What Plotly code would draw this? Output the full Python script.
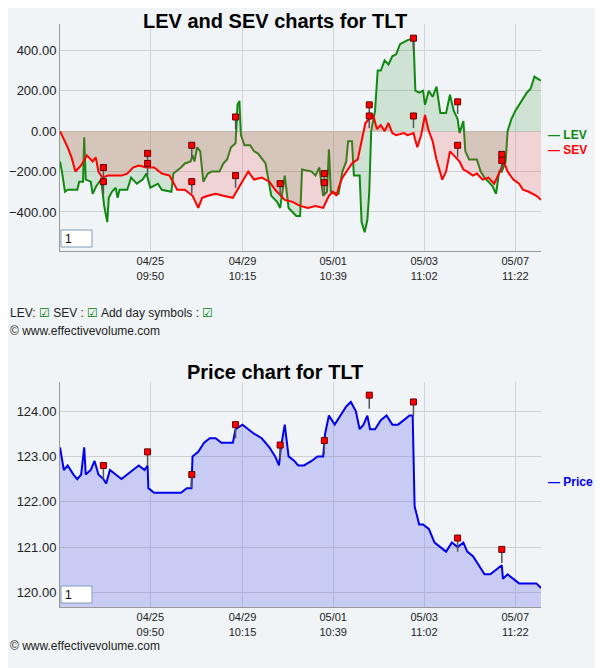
import plotly.graph_objects as go

# sample position (time axis, 04/23 .. 05/08) and values
lev_t = [155,160,168,175,200,205,215,218,222,235,240,250,262,270,278,282,290,300,305,310,330,340,355,370,380,390,410,420,445,450,470,480,495,500,505,512,520,528,540,550,570,580,590,600,612,617,622,626,635,650,660,670,690,705,720,728,740,750,770,780,785,810,820,830,840,850,855,860,880,890,900,905,915,920,935,940,948,955,960,965,975,982,990,1000,1010,1020,1030,1040,1060,1075,1080,1090,1100,1105,1115,1125,1135,1145,1160,1170,1180,1190,1195,1205,1210,1220,1240,1250,1260,1280,1290,1298,1305,1315,1320,1330,1340,1350,1360,1370,1380,1390,1398,1407]
lev = [-150,-200,-300,-290,-290,-250,-250,-30,-240,-250,-310,-270,-240,-370,-450,-330,-300,-280,-330,-290,-290,-230,-260,-240,-210,-280,-260,-290,-300,-210,-180,-160,-150,-120,-150,-80,-100,-250,-210,-200,-200,-160,-140,-80,-60,130,150,-20,-70,-70,-100,-110,-160,-320,-350,-380,-220,-380,-420,-420,-190,-200,-220,-180,-320,-300,-90,-300,-310,-200,-150,-50,-50,-220,-220,-450,-500,-440,-300,0,100,300,300,350,330,370,380,430,450,460,200,190,200,130,200,170,220,90,90,180,100,60,-10,50,-100,-140,-140,-200,-230,-270,-310,-200,-200,-150,0,60,100,130,160,190,210,270,260,250]

sev_t = [155,165,175,185,195,210,225,240,248,255,265,280,300,315,330,345,360,380,400,420,440,460,480,500,515,525,540,560,580,605,620,630,645,660,680,700,715,740,760,780,800,820,840,855,865,875,880,890,900,915,930,940,950,960,970,980,990,1000,1010,1020,1030,1050,1060,1075,1085,1095,1105,1115,1125,1135,1145,1150,1160,1170,1185,1195,1205,1215,1230,1240,1255,1270,1285,1300,1310,1320,1335,1350,1360,1375,1395,1407]
sev = [0,-40,-80,-130,-200,-170,-120,-150,-130,-200,-230,-220,-220,-220,-210,-180,-170,-180,-180,-210,-220,-290,-290,-320,-380,-330,-320,-310,-320,-330,-280,-250,-200,-240,-230,-250,-290,-340,-350,-370,-380,-370,-380,-320,-300,-320,-280,-230,-200,-160,-140,-50,40,60,80,10,30,0,40,-10,-20,-10,-20,-10,-80,-20,80,0,-50,-140,-200,-240,-200,-100,-130,-150,-190,-200,-220,-210,-240,-230,-260,-200,-150,-200,-240,-260,-290,-300,-320,-340]

day_t = [268,268,383,383,498,498,612,612,728,843,843,960,960,1075,1075,1190,1190,1305,1305]
day_v = [-180,-250,-110,-160,-70,-250,70,-220,-260,-210,-255,130,75,460,75,145,-70,-115,-145]

price_t = [155,165,175,190,200,210,218,222,235,245,255,268,275,285,300,315,330,345,360,375,383,385,400,420,440,455,470,485,497,500,515,530,545,560,575,590,605,612,630,645,660,680,700,715,725,730,740,750,765,775,790,810,825,840,845,855,870,885,900,912,925,935,945,955,962,975,990,1005,1020,1035,1050,1065,1073,1078,1090,1100,1115,1130,1145,1160,1175,1190,1205,1215,1230,1245,1260,1275,1290,1305,1308,1320,1335,1350,1365,1380,1395,1407]
price = [123.2,122.7,122.8,122.6,122.5,122.6,123.2,122.6,122.7,122.9,122.6,122.5,122.4,122.7,122.6,122.5,122.6,122.7,122.8,122.7,122.8,122.3,122.2,122.2,122.2,122.2,122.2,122.3,122.3,123.0,123.1,123.3,123.4,123.4,123.3,123.3,123.3,123.6,123.7,123.6,123.5,123.4,123.2,123.0,122.8,123.2,123.7,123.0,122.9,122.8,122.8,122.9,123.0,123.0,123.5,123.9,123.7,123.9,124.1,124.2,124.0,123.6,123.7,123.9,123.6,123.6,123.8,123.9,123.7,123.7,123.8,123.9,123.9,121.9,121.5,121.5,121.4,121.1,121.0,120.9,121.1,121.0,121.1,120.9,120.8,120.6,120.4,120.4,120.5,120.6,120.3,120.4,120.3,120.2,120.2,120.2,120.2,120.1]

pday_t = [268,383,498,612,728,843,960,1075,1190,1305]
pday_v = [122.8,123.1,122.6,123.7,123.25,123.35,124.35,124.2,121.2,120.95]

tick_pos = [390, 630, 866, 1103, 1340]
tick_txt = ["04/25<br>09:50", "04/29<br>10:15", "05/01<br>10:39", "05/03<br>11:02", "05/07<br>11:22"]

bg = "#f0f4f7"
font = "Liberation Sans, Arial, sans-serif"

# page has an 8px body margin: figure occupies x 8..603, y 8..668
W, H, OFF = 595, 660, 8


def px(x):
    return (x - OFF) / W


def py(y):
    return (668 - y) / H


fig = go.Figure()
fig.add_trace(go.Scatter(x=lev_t, y=lev, mode="lines", line=dict(color="#118811", width=2),
                         fill="tozeroy", fillcolor="rgba(60,150,60,0.18)", xaxis="x", yaxis="y"))
fig.add_trace(go.Scatter(x=sev_t, y=sev, mode="lines", line=dict(color="#ff0000", width=2),
                         fill="tozeroy", fillcolor="rgba(240,80,80,0.2)", xaxis="x", yaxis="y"))
fig.add_trace(go.Scatter(x=day_t, y=day_v, mode="markers",
                         marker=dict(symbol="square", size=6, color="red", line=dict(color="#600", width=1)),
                         error_y=dict(type="data", symmetric=False, array=[0] * len(day_v),
                                      arrayminus=[60] * len(day_v), color="#555", thickness=1.5, width=0),
                         xaxis="x", yaxis="y"))
fig.add_trace(go.Scatter(x=price_t, y=price, mode="lines", line=dict(color="#0000ee", width=2),
                         fill="tozeroy", fillcolor="rgba(110,110,235,0.3)", xaxis="x2", yaxis="y2"))
fig.add_trace(go.Scatter(x=pday_t, y=pday_v, mode="markers",
                         marker=dict(symbol="square", size=6, color="red", line=dict(color="#600", width=1)),
                         error_y=dict(type="data", symmetric=False, array=[0] * len(pday_v),
                                      arrayminus=[0.3] * len(pday_v), color="#555", thickness=1.5, width=0),
                         xaxis="x2", yaxis="y2"))

xcommon = dict(range=[155, 1407], tickvals=tick_pos, ticktext=tick_txt, showgrid=True,
               gridcolor="#cfd6dc", showline=True, linecolor="#999", ticks="", zeroline=False,
               tickfont=dict(size=11, color="#222"))
ycommon = dict(showgrid=True, gridcolor="#cfd0d0", showline=True, linecolor="#999", zeroline=False,
               tickformat=".2f", tickfont=dict(size=13, color="#222"))

fig.update_layout(
    width=W, height=H, margin=dict(l=0, r=0, t=0, b=0),
    paper_bgcolor=bg, plot_bgcolor=bg, showlegend=False, font=dict(family=font),
    xaxis=dict(domain=[px(60), px(541)], anchor="y", **xcommon),
    yaxis=dict(domain=[py(251), py(24)], range=[-593, 530], tickvals=[-400, -200, 0, 200, 400], anchor="x", **ycommon),
    xaxis2=dict(domain=[px(60), px(541)], anchor="y2", **xcommon),
    yaxis2=dict(domain=[py(607), py(382)], range=[119.68, 124.64], tickvals=[120, 121, 122, 123, 124], anchor="x2", **ycommon),
    shapes=[
        dict(type="rect", xref="paper", yref="paper", x0=px(61), x1=px(92), y0=py(247), y1=py(230),
             fillcolor="white", line=dict(color="#7f9db9", width=1)),
        dict(type="rect", xref="paper", yref="paper", x0=px(61), x1=px(92), y0=py(603), y1=py(586),
             fillcolor="white", line=dict(color="#7f9db9", width=1)),
    ],
    annotations=[
        dict(text="<b>LEV and SEV charts for TLT</b>", x=px(275), y=1.0, xref="paper", yref="paper",
             yanchor="top", showarrow=False, font=dict(size=20, color="black", family=font)),
        dict(text="<b>Price chart for TLT</b>", x=px(275), y=py(359), xref="paper", yref="paper",
             yanchor="top", showarrow=False, font=dict(size=20, color="black", family=font)),
        dict(text="<b>— LEV</b>", x=px(546), y=py(126), xref="paper", yref="paper", xanchor="left",
             showarrow=False, font=dict(size=12, color="#118811")),
        dict(text="<b>— SEV</b>", x=px(546), y=py(141), xref="paper", yref="paper", xanchor="left",
             showarrow=False, font=dict(size=12, color="#ff0000")),
        dict(text="<b>— Price</b>", x=px(546), y=py(491), xref="paper", yref="paper", xanchor="left",
             showarrow=False, font=dict(size=12, color="#0000ee")),
        dict(text="1", x=px(63), y=py(239), xref="paper", yref="paper", xanchor="left", yanchor="middle",
             showarrow=False, font=dict(size=12, color="black")),
        dict(text="1", x=px(63), y=py(595), xref="paper", yref="paper", xanchor="left", yanchor="middle",
             showarrow=False, font=dict(size=12, color="black")),
        dict(text="LEV: <span style='color:green'>☑</span> SEV : <span style='color:green'>☑</span> Add day symbols : <span style='color:green'>☑</span>",
             x=px(8), y=py(313), xref="paper", yref="paper", xanchor="left",
             showarrow=False, font=dict(size=12, color="#222")),
        dict(text="© www.effectivevolume.com", x=px(8), y=py(331), xref="paper", yref="paper",
             xanchor="left", showarrow=False, font=dict(size=12, color="#222")),
        dict(text="© www.effectivevolume.com", x=px(8), y=py(655), xref="paper", yref="paper",
             xanchor="left", showarrow=False, font=dict(size=12, color="#222")),
    ],
)

fig.write_html("out.html")
